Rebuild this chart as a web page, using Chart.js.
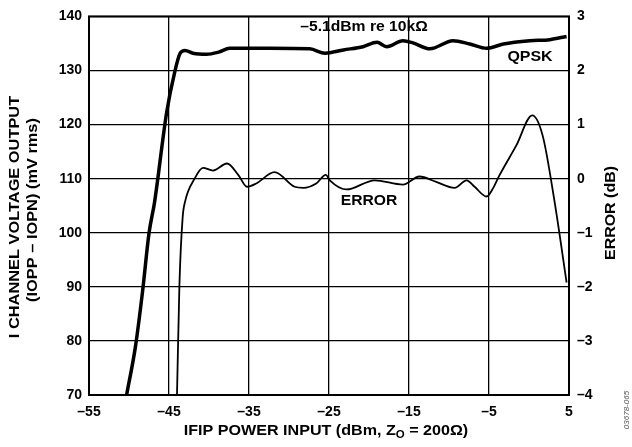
<!DOCTYPE html>
<html>

<head>
    <title>IFIP power input vs I channel voltage output</title>
    <script src="https://cdn.jsdelivr.net/npm/chart.js"></script>
    <style>
        html, body { margin: 0; padding: 0; background: #fff; }
        #wrap { width: 632px; height: 447px; }
    </style>
</head>

<body>

    <div id="wrap"><canvas id="myChart" width="632" height="447"></canvas></div>

    <script>
        // QPSK output curve (left axis, mV rms)
        var qpskX = [-50.3, -49.2, -48.3, -47.5, -46.8, -45.3, -44.3, -43.6, -43.0, -42.0, -40.3, -38.8, -37.4, -32.4,
            -27.4, -25.5, -23.2, -20.75, -19.0, -17.8, -15.75, -14.5, -12.4, -9.5, -7.4, -5.3, -3.2, 0.1, 2.6, 4.7];
        var qpskY = [70, 78.9, 89.2, 99.9, 105.7, 122.2, 129.6, 133.2, 133.7, 133.2, 133.0, 133.4, 134.1, 134.1,
            134.0, 133.2, 133.8, 134.4, 135.2, 134.4, 135.5, 135.1, 134.0, 135.5, 134.9, 134.1, 134.9, 135.5, 135.7, 136.3];

        // error curve (right axis, dB)
        var errX = [-44.0, -43.7, -43.3, -43.0, -41.8, -40.75, -39.5, -37.75, -36.3, -35.25, -34.1, -31.8, -29.3, -28.2,
            -26.6, -25.4, -24.9, -22.8, -19.3, -15.75, -13.7, -11.6, -9.3, -7.8, -6.8, -5.3, -4.5, -3.7, -1.6, 0.4, 1.7, 3.2, 4.7];
        var errY = [-4, -1.98, -0.73, -0.43, 0, 0.2, 0.15, 0.28, 0.06, -0.15, -0.09, 0.12, -0.15, -0.17,
            -0.09, 0.07, -0.03, -0.2, -0.03, -0.11, 0.04, -0.06, -0.17, -0.03, -0.15, -0.33, -0.18, 0.06, 0.61, 1.17, 0.80, -0.43, -1.92];

        var xTicks = [-55, -45, -35, -25, -15, -5, 5];
        var leftTicks = [70, 80, 90, 100, 110, 120, 130, 140];
        var rightTicks = [-4, -3, -2, -1, 0, 1, 2, 3];

        var FONT = 'Liberation Sans, Arial, sans-serif';

        function toPoints(xs, ys) {
            return xs.map(function (x, i) { return { x: x, y: ys[i] }; });
        }

        function dash(v) {
            return String(v).replace('-', '\u2013');
        }

        // centred text, stretched a little along its baseline
        function stretchText(c, text, x, y, angle, sx) {
            c.save();
            c.translate(x, y);
            c.rotate(angle);
            c.scale(sx, 1);
            c.fillText(text, 0, 0);
            c.restore();
        }

        var textPlugin = {
            id: 'textPlugin',
            afterDraw(chart) {
                var c = chart.ctx;
                var a = chart.chartArea;
                c.save();
                // frame
                c.strokeStyle = '#000';
                c.lineWidth = 2;
                c.strokeRect(a.left, a.top, a.right - a.left, a.bottom - a.top);

                c.fillStyle = '#000';
                c.font = 'bold 14px ' + FONT;
                c.textAlign = 'center';
                c.textBaseline = 'middle';

                // labels in the plot
                stretchText(c, '\u20135.1dBm re 10k\u03A9', 364, 27, 0, 1.12);
                stretchText(c, 'QPSK', 530, 57, 0, 1.14);
                stretchText(c, 'ERROR', 369, 201, 0, 1.12);

                // axis titles
                stretchText(c, 'I CHANNEL VOLTAGE OUTPUT', 15, 217, -Math.PI / 2, 1.17);
                stretchText(c, '(IOPP \u2013 IOPN) (mV rms)', 33, 210, -Math.PI / 2, 1.17);
                stretchText(c, 'ERROR (dB)', 611, 213, -Math.PI / 2, 1.14);

                // bottom title with subscript
                var sx = 1.15;
                var p1 = 'IFIP POWER INPUT (dBm, Z';
                var p2 = 'O';
                var p3 = ' = 200\u03A9)';
                c.font = 'bold 14px ' + FONT;
                var w1 = c.measureText(p1).width;
                var w3 = c.measureText(p3).width;
                c.font = 'bold 10px ' + FONT;
                var w2 = c.measureText(p2).width;
                c.save();
                c.translate(326, 431);
                c.scale(sx, 1);
                var x0 = -(w1 + w2 + w3) / 2;
                c.textAlign = 'left';
                c.font = 'bold 14px ' + FONT;
                c.fillText(p1, x0, 0);
                c.font = 'bold 10px ' + FONT;
                c.fillText(p2, x0 + w1, 4);
                c.font = 'bold 14px ' + FONT;
                c.fillText(p3, x0 + w1 + w2, 0);
                c.restore();

                // figure number
                c.textAlign = 'center';
                c.font = 'italic 8px ' + FONT;
                c.fillStyle = '#555';
                stretchText(c, '03678-065', 627, 410, -Math.PI / 2, 1);

                c.restore();
            }
        };

        var ctx = document.getElementById('myChart').getContext('2d');
        var myChart = new Chart(ctx, {
            type: 'scatter',
            data: {
                datasets: [{
                    label: 'QPSK',
                    data: toPoints(qpskX, qpskY),
                    yAxisID: 'y',
                    showLine: true,
                    borderColor: '#000',
                    borderWidth: 3.5,
                    pointRadius: 0,
                    cubicInterpolationMode: 'monotone'
                }, {
                    label: 'ERROR',
                    data: toPoints(errX, errY),
                    yAxisID: 'y2',
                    showLine: true,
                    borderColor: '#000',
                    borderWidth: 1.8,
                    pointRadius: 0,
                    cubicInterpolationMode: 'monotone'
                }]
            },
            options: {
                responsive: false,
                animation: false,
                events: [],
                layout: { padding: { top: 13, left: 0, right: 0, bottom: 0 } },
                plugins: {
                    legend: { display: false },
                    tooltip: { enabled: false }
                },
                scales: {
                    x: {
                        type: 'linear',
                        min: -55,
                        max: 5,
                        afterBuildTicks(scale) { scale.ticks = xTicks.map(function (v) { return { value: v }; }); },
                        afterFit(scale) { scale.height = 52; },
                        grid: { color: '#000', lineWidth: 1.3, drawTicks: false },
                        border: { display: false },
                        ticks: {
                            padding: 9,
                            maxRotation: 0,
                            color: '#000',
                            font: { family: FONT, size: 14, weight: 'bold' },
                            callback: function (v) { return dash(v); }
                        }
                    },
                    y: {
                        type: 'linear',
                        position: 'left',
                        min: 70,
                        max: 140,
                        afterBuildTicks(scale) { scale.ticks = leftTicks.map(function (v) { return { value: v }; }); },
                        afterFit(scale) { scale.width = 89; },
                        grid: { color: '#000', lineWidth: 1.3, drawTicks: false },
                        border: { display: false },
                        ticks: {
                            padding: 7,
                            color: '#000',
                            font: { family: FONT, size: 14, weight: 'bold' },
                            callback: function (v) { return dash(v); }
                        }
                    },
                    y2: {
                        type: 'linear',
                        position: 'right',
                        min: -4,
                        max: 3,
                        afterBuildTicks(scale) { scale.ticks = rightTicks.map(function (v) { return { value: v }; }); },
                        afterFit(scale) { scale.width = 63; },
                        grid: { display: false, drawTicks: false },
                        border: { display: false },
                        ticks: {
                            padding: 8,
                            color: '#000',
                            font: { family: FONT, size: 14, weight: 'bold' },
                            callback: function (v) { return dash(v); }
                        }
                    }
                }
            },
            plugins: [textPlugin]
        });
    </script>

</body>

</html>
